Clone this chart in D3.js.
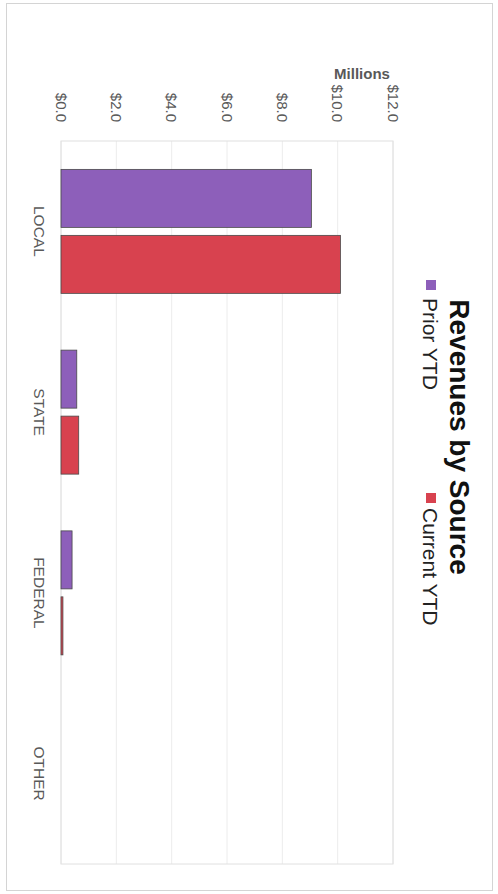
<!DOCTYPE html>
<html>
<head>
<meta charset="utf-8">
<script src="https://cdn.jsdelivr.net/npm/d3@7"></script>
<style>
  body { margin: 0; background: #fff; }
  svg { display: block; font-family: "Liberation Sans", Arial, sans-serif; }
</style>
</head>
<body>
<svg id="chart" width="498" height="894"></svg>
<script>
// Revenues by source, in millions of dollars
const categories = ["LOCAL", "STATE", "FEDERAL", "OTHER"];
const seriesNames = ["Prior YTD", "Current YTD"];
const priorYTD = [9.05, 0.57, 0.40, 0];
const currentYTD = [10.1, 0.64, 0.07, 0];
const tickValues = [0, 2, 4, 6, 8, 10, 12];
const seriesColors = ["#8d5fba", "#d8424f"];

const W = 498, H = 894;
const svg = d3.select("#chart");

// page frame
svg.append("rect")
  .attr("x", 6.5).attr("y", 3.5)
  .attr("width", 486).attr("height", 887)
  .attr("fill", "none")
  .attr("stroke", "#d4d4d4")
  .attr("stroke-width", 1);

// The chart is laid out as a landscape column chart (894 x 498)
// and turned a quarter turn clockwise onto the portrait page.
const g = svg.append("g").attr("transform", `translate(${W},0) rotate(90)`);

const plot = { left: 141, right: 864, top: 105, bottom: 437 };

const x0 = d3.scaleBand()
  .domain(categories)
  .range([plot.left, plot.right])
  .paddingInner(0.314)
  .paddingOuter(0.157);

const x1 = d3.scaleBand()
  .domain(seriesNames)
  .range([0, x0.bandwidth()])
  .paddingInner(0.121);

const y = d3.scaleLinear().domain([0, 12]).range([plot.bottom, plot.top]);

// gridlines
g.append("g").selectAll("line")
  .data(tickValues)
  .join("line")
  .attr("x1", plot.left).attr("x2", plot.right)
  .attr("y1", d => y(d)).attr("y2", d => y(d))
  .attr("stroke", "#ececec")
  .attr("stroke-width", 1);

// plot area border
g.append("rect")
  .attr("x", plot.left).attr("y", plot.top)
  .attr("width", plot.right - plot.left)
  .attr("height", plot.bottom - plot.top)
  .attr("fill", "none")
  .attr("stroke", "#e0e0e0")
  .attr("stroke-width", 1);

// value axis
const yAxis = g.append("g")
  .attr("transform", `translate(${plot.left},0)`)
  .call(d3.axisLeft(y)
    .tickValues(tickValues)
    .tickFormat(d => "$" + d.toFixed(1))
    .tickSize(0)
    .tickPadding(19));
yAxis.select(".domain").remove();
yAxis.selectAll("text")
  .attr("font-size", 15)
  .attr("font-family", "Liberation Sans, Arial, sans-serif")
  .attr("fill", "#595959");

// category axis
const xAxis = g.append("g")
  .attr("transform", `translate(0,${plot.bottom})`)
  .call(d3.axisBottom(x0).tickSize(0).tickPadding(16));
xAxis.select(".domain").remove();
xAxis.selectAll("text")
  .attr("font-size", 15.5)
  .attr("font-family", "Liberation Sans, Arial, sans-serif")
  .attr("fill", "#595959");

// bars
const rows = categories.map((c, i) => ({
  category: c,
  values: [
    { series: seriesNames[0], value: priorYTD[i], color: seriesColors[0] },
    { series: seriesNames[1], value: currentYTD[i], color: seriesColors[1] }
  ]
}));

g.append("g").selectAll("g")
  .data(rows)
  .join("g")
  .attr("transform", d => `translate(${x0(d.category)},0)`)
  .selectAll("rect")
  .data(d => d.values.filter(v => v.value > 0))
  .join("rect")
  .attr("x", d => x1(d.series))
  .attr("width", x1.bandwidth())
  .attr("y", d => y(d.value))
  .attr("height", d => y(0) - y(d.value))
  .attr("fill", d => d.color)
  .attr("stroke", "#4a4a4a")
  .attr("stroke-width", 0.8);

// title
g.append("text")
  .attr("x", 437).attr("y", 48)
  .attr("text-anchor", "middle")
  .attr("font-size", 28)
  .attr("font-weight", "bold")
  .attr("fill", "#111")
  .text("Revenues by Source");

// legend
const legendPos = [{ sq: 280, tx: 298 }, { sq: 493, tx: 508 }];
const legend = g.append("g").selectAll("g")
  .data(seriesNames)
  .join("g");
legend.append("rect")
  .attr("x", (d, i) => legendPos[i].sq)
  .attr("y", 62)
  .attr("width", 10).attr("height", 10)
  .attr("fill", (d, i) => seriesColors[i]);
legend.append("text")
  .attr("x", (d, i) => legendPos[i].tx)
  .attr("y", 75)
  .attr("font-size", 21)
  .attr("fill", "#222")
  .text(d => d);

// display-unit label of the value axis
svg.append("text")
  .attr("x", 362).attr("y", 79)
  .attr("text-anchor", "middle")
  .attr("font-size", 15)
  .attr("font-weight", "bold")
  .attr("fill", "#595959")
  .text("Millions");
</script>
</body>
</html>
